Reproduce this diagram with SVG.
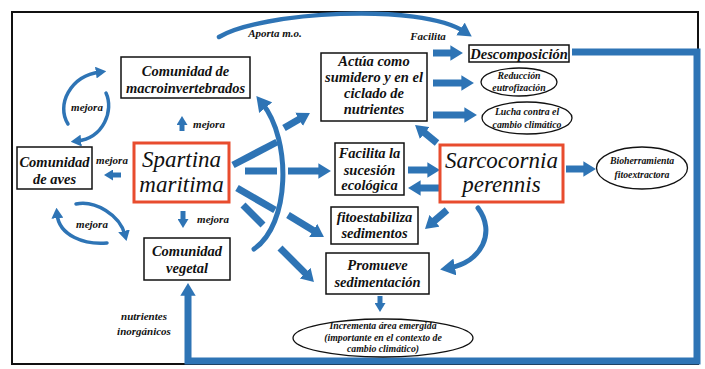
<svg xmlns="http://www.w3.org/2000/svg" width="705" height="369" viewBox="0 0 705 369">
<style>
.box{fill:#fff;stroke:#111;stroke-width:1.5}
.red{fill:#fff;stroke:#e84c2e;stroke-width:3}
.ell{fill:#fff;stroke:#111;stroke-width:1.3}
text{font-family:'Liberation Serif','Times New Roman',Times,'DejaVu Serif',serif}
.t{font-style:italic;font-weight:bold;fill:#111;text-anchor:middle}
.big{font-style:italic;font-size:23px;fill:#111;text-anchor:middle}
.s{font-size:11px}
.e{font-size:9.8px}
.m{font-size:14.5px}
.bar{fill:none;stroke:#2e74b5;stroke-width:7}
.bar5{fill:none;stroke:#2e74b5;stroke-width:5}
.cv{fill:none;stroke:#2e74b5;stroke-width:4.5;stroke-linecap:round}
.cv3{fill:none;stroke:#2e74b5;stroke-width:3.5;stroke-linecap:round}
</style>
<defs>
<marker id="ah" viewBox="0 0 10 10" refX="4" refY="5" markerWidth="1.8" markerHeight="2.2" orient="auto" markerUnits="strokeWidth" preserveAspectRatio="none"><path d="M0,0 L10,5 L0,10 z" fill="#2e74b5"/></marker>
<marker id="ahc" viewBox="0 0 10 10" refX="4" refY="5" markerWidth="3" markerHeight="3.4" orient="auto" markerUnits="strokeWidth" preserveAspectRatio="none"><path d="M0,0 L10,5 L0,10 z" fill="#2e74b5"/></marker>
</defs>
<rect x="0" y="0" width="705" height="369" fill="#fff"/>
<rect x="12" y="12" width="686" height="352" fill="#fff" stroke="#111" stroke-width="2"/>

<g id="connectors">
<polyline class="bar" points="572,52 697,52 697,361 188,361 188,290.6" marker-end="url(#ah)"/>
<path class="cv" d="M219,37 C260,12 420,2 465,32" marker-end="url(#ahc)"/>
<path class="cv" d="M254,249 C290,225 292,140 262,103" marker-end="url(#ahc)" style="stroke-width:5"/>
<path class="cv3" d="M68,124 C56,105 70,76 100,72" marker-end="url(#ahc)"/>
<path class="cv3" d="M106,93 C114,110 104,138 77,141" marker-end="url(#ahc)"/>
<path class="cv3" d="M107,243 C85,245 59,236 57,214" marker-end="url(#ahc)"/>
<path class="cv3" d="M76,204 C95,200 120,215 125,235" marker-end="url(#ahc)"/>
<path class="cv" d="M478,208 C496,232 482,262 449,268" marker-end="url(#ahc)" style="stroke-width:5"/>
<line class="bar" x1="233" y1="165" x2="277" y2="142"/>
<line class="bar" x1="284" y1="128" x2="303.4" y2="116.8" marker-end="url(#ah)"/>
<line class="bar" x1="245" y1="171" x2="277" y2="171"/>
<line class="bar" x1="288" y1="171" x2="323.4" y2="171" marker-end="url(#ah)"/>
<line class="bar" x1="237" y1="188" x2="275" y2="210"/>
<line class="bar" x1="288" y1="215" x2="317.5" y2="233" marker-end="url(#ah)"/>
<line class="bar" x1="243" y1="205" x2="263" y2="225"/>
<line class="bar" x1="280" y1="248" x2="308.6" y2="276.6" marker-end="url(#ah)"/>
<line class="bar" x1="433" y1="53" x2="455.4" y2="53" marker-end="url(#ah)"/>
<line class="bar" x1="433" y1="83" x2="466.4" y2="83" marker-end="url(#ah)"/>
<line class="bar" x1="433" y1="115" x2="469.4" y2="115" marker-end="url(#ah)"/>
<line class="bar" x1="408" y1="170" x2="432.4" y2="170" marker-end="url(#ah)"/>
<line class="bar" x1="440" y1="188" x2="415.6" y2="188" marker-end="url(#ah)"/>
<line class="bar" x1="437" y1="143" x2="420.9" y2="129.8" marker-end="url(#ah)"/>
<line class="bar" x1="447" y1="210" x2="430.7" y2="224" marker-end="url(#ah)"/>
<line class="bar" x1="566" y1="169" x2="588.4" y2="169" marker-end="url(#ah)"/>
<line class="bar5" x1="182" y1="131" x2="182" y2="121.4" marker-end="url(#ah)"/>
<line class="bar5" x1="183" y1="211" x2="183" y2="222.6" marker-end="url(#ah)"/>
<line class="bar5" x1="121" y1="175" x2="109.4" y2="175" marker-end="url(#ah)"/>
<line class="bar5" x1="380" y1="296" x2="380" y2="306.6" marker-end="url(#ah)"/>
</g>

<g id="labels">
<text class="t s" x="275" y="37">Aporta m.o.</text>
<text class="t s" x="428" y="40">Facilita</text>
<text class="t s" x="209" y="128">mejora</text>
<text class="t s" x="213" y="223">mejora</text>
<text class="t s" x="112" y="164">mejora</text>
<text class="t s" x="87" y="111">mejora</text>
<text class="t s" x="92" y="228">mejora</text>
<text class="t s" x="144" y="320">nutrientes</text>
<text class="t s" x="144" y="335">inorgánicos</text>
</g>

<g id="macroinvertebrados">
<rect class="box" x="121" y="57" width="129" height="41"/>
<text class="t m" x="185.5" y="76">Comunidad de</text>
<text class="t m" x="185.5" y="93">macroinvertebrados</text>
</g>
<g id="aves">
<rect class="box" x="17" y="147" width="75" height="42"/>
<text class="t m" x="54.5" y="167">Comunidad</text>
<text class="t m" x="54.5" y="184">de aves</text>
</g>
<g id="vegetal">
<rect class="box" x="144" y="238" width="86" height="42"/>
<text class="t m" x="187" y="256">Comunidad</text>
<text class="t m" x="187" y="273">vegetal</text>
</g>
<g id="spartina">
<rect class="red" x="134" y="143" width="95" height="59"/>
<text class="big" x="181.5" y="167">Spartina</text>
<text class="big" x="181.5" y="192">maritima</text>
</g>
<g id="sumidero">
<rect class="box" x="321" y="53" width="106" height="68"/>
<text class="t m" x="374" y="66">Actúa como</text>
<text class="t m" x="374" y="82">sumidero y en el</text>
<text class="t m" x="374" y="98">ciclado de</text>
<text class="t m" x="374" y="114">nutrientes</text>
</g>
<g id="descomposicion">
<rect class="box" x="469" y="45" width="100" height="17"/>
<text class="t" x="519" y="59" style="font-size:14.5px">Descomposición</text>
</g>
<g id="reduccion">
<ellipse class="ell" cx="519" cy="82" rx="38" ry="14"/>
<text class="t e" x="519" y="79">Reducción</text>
<text class="t e" x="519" y="91">eutrofización</text>
</g>
<g id="lucha">
<ellipse class="ell" cx="527" cy="118" rx="45" ry="16"/>
<text class="t e" x="527" y="115">Lucha contra el</text>
<text class="t e" x="527" y="128">cambio climático</text>
</g>
<g id="sucesion">
<rect class="box" x="335" y="143" width="69" height="52"/>
<text class="t m" x="369.5" y="158">Facilita la</text>
<text class="t m" x="369.5" y="175">sucesión</text>
<text class="t m" x="369.5" y="190">ecológica</text>
</g>
<g id="sarcocornia">
<rect class="red" x="440" y="145" width="123" height="57"/>
<text class="big" x="501.5" y="168">Sarcocornia</text>
<text class="big" x="501.5" y="192">perennis</text>
</g>
<g id="bioherramienta">
<ellipse class="ell" cx="642" cy="168" rx="45.5" ry="21"/>
<text class="t e" x="642" y="164">Bioherramienta</text>
<text class="t e" x="642" y="178">fitoextractora</text>
</g>
<g id="fitoestabiliza">
<rect class="box" x="331" y="207" width="87" height="37"/>
<text class="t m" x="374.5" y="222">fitoestabiliza</text>
<text class="t m" x="374.5" y="238">sedimentos</text>
</g>
<g id="promueve">
<rect class="box" x="326" y="253" width="103" height="41"/>
<text class="t m" x="377.5" y="270">Promueve</text>
<text class="t m" x="377.5" y="287">sedimentación</text>
</g>
<g id="incrementa">
<ellipse class="ell" cx="383" cy="338" rx="90" ry="19"/>
<text class="t e" x="383" y="329">Incrementa área emergida</text>
<text class="t e" x="383" y="341">(importante en el contexto de</text>
<text class="t e" x="383" y="352">cambio climático)</text>
</g>
</svg>
